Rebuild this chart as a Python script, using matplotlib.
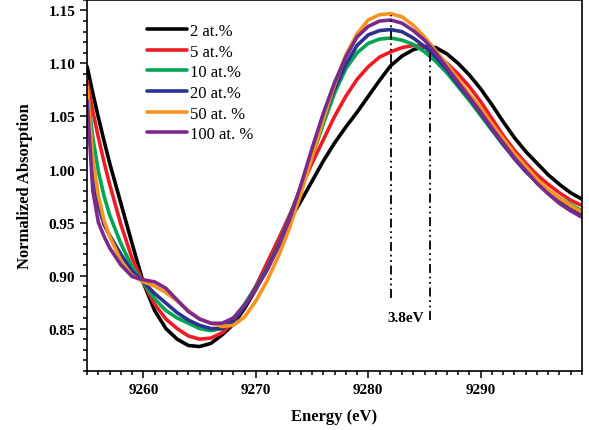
import numpy as np
import matplotlib
matplotlib.use("Agg")
import matplotlib.pyplot as plt
from matplotlib.ticker import MultipleLocator

plt.rcParams['font.family'] = ['Liberation Serif', 'DejaVu Serif']

# energy grid (eV) shared by all spectra
energy = [9255, 9255.5, 9256, 9256.5, 9257, 9258, 9259, 9260, 9261, 9262, 9263, 9264,
          9265, 9266, 9267, 9268, 9269, 9270, 9271, 9272, 9273, 9274, 9275, 9276,
          9277, 9278, 9279, 9280, 9281, 9282, 9283, 9284, 9285, 9286, 9287, 9288,
          9289, 9290, 9291, 9292, 9293, 9294, 9295, 9296, 9297, 9298, 9299]

# normalized absorption
at2 = [1.097, 1.072, 1.049, 1.027, 1.006, 0.968, 0.930, 0.893, 0.867, 0.850, 0.840, 0.834,
       0.833, 0.836, 0.844, 0.854, 0.869, 0.887, 0.910, 0.932, 0.952, 0.970, 0.989, 1.008,
       1.025, 1.040, 1.054, 1.069, 1.084, 1.098, 1.107, 1.113, 1.116, 1.115, 1.109, 1.100,
       1.089, 1.076, 1.061, 1.045, 1.030, 1.017, 1.006, 0.995, 0.986, 0.978, 0.972]
at5 = [1.083, 1.055, 1.030, 1.007, 0.986, 0.948, 0.916, 0.893, 0.873, 0.859, 0.850, 0.843,
       0.840, 0.841, 0.846, 0.856, 0.872, 0.890, 0.912, 0.934, 0.957, 0.982, 1.006, 1.028,
       1.050, 1.069, 1.085, 1.097, 1.106, 1.111, 1.115, 1.117, 1.116, 1.109, 1.100, 1.090,
       1.078, 1.064, 1.048, 1.032, 1.018, 1.006, 0.995, 0.986, 0.978, 0.971, 0.966]
at10 = [1.075, 1.030, 0.998, 0.975, 0.957, 0.930, 0.908, 0.893, 0.878, 0.867, 0.860, 0.855,
        0.850, 0.848, 0.850, 0.859, 0.873, 0.889, 0.907, 0.929, 0.955, 0.983, 1.012, 1.043,
        1.072, 1.095, 1.110, 1.119, 1.123, 1.124, 1.122, 1.118, 1.111, 1.102, 1.091, 1.078,
        1.065, 1.051, 1.037, 1.023, 1.011, 0.999, 0.988, 0.980, 0.973, 0.967, 0.961]
at20 = [1.070, 1.000, 0.966, 0.948, 0.938, 0.920, 0.904, 0.894, 0.883, 0.874, 0.865, 0.858,
        0.853, 0.850, 0.850, 0.857, 0.871, 0.888, 0.906, 0.928, 0.954, 0.984, 1.016, 1.048,
        1.076, 1.099, 1.117, 1.127, 1.131, 1.132, 1.130, 1.124, 1.116, 1.106, 1.094, 1.080,
        1.067, 1.053, 1.038, 1.024, 1.010, 0.998, 0.988, 0.979, 0.970, 0.963, 0.958]
at50 = [1.078, 1.010, 0.975, 0.952, 0.937, 0.914, 0.900, 0.894, 0.890, 0.884, 0.876, 0.867,
        0.859, 0.855, 0.852, 0.853, 0.861, 0.876, 0.895, 0.918, 0.945, 0.977, 1.012, 1.047,
        1.080, 1.108, 1.128, 1.141, 1.146, 1.147, 1.144, 1.136, 1.125, 1.112, 1.099, 1.085,
        1.071, 1.058, 1.043, 1.029, 1.015, 1.003, 0.991, 0.981, 0.973, 0.966, 0.960]
at100 = [1.065, 0.980, 0.950, 0.937, 0.926, 0.910, 0.899, 0.896, 0.894, 0.888, 0.877, 0.866,
         0.859, 0.855, 0.855, 0.860, 0.872, 0.887, 0.905, 0.927, 0.953, 0.985, 1.020, 1.053,
         1.082, 1.106, 1.125, 1.135, 1.140, 1.141, 1.138, 1.131, 1.122, 1.110, 1.096, 1.082,
         1.068, 1.054, 1.039, 1.025, 1.011, 0.999, 0.987, 0.977, 0.968, 0.961, 0.955]

labels = ['2 at.%', '5 at.%', '10 at.%', '20 at.%', '50 at. %', '100 at. %']
colors = ['#000000', '#ed1c24', '#00a651', '#2e3192', '#f7941d', '#7a2a8c']

# peak markers and the shift annotation
peak_x = [9282.0, 9285.5]
peak_top = [1.146, 1.114]
peak_bottom = [0.879, 0.858]
shift_text = '3.8eV'

fig = plt.figure(figsize=(5.89, 4.31), dpi=100)
ax = fig.add_axes([0.148, 0.137, 0.840, 0.861])

for y, lab, c in zip([at2, at5, at10, at20, at50, at100], labels, colors):
    ax.plot(energy, y, color=c, lw=2.6, label=lab, solid_capstyle='round',
            solid_joinstyle='round')

for x, t, b in zip(peak_x, peak_top, peak_bottom):
    ax.plot([x, x], [b, t], color='black', lw=1.3, linestyle=(0, (5, 2, 1, 2, 1, 2)))

ax.text(9283.3, 0.8605, shift_text, ha='center', va='center', fontsize=11, fontweight='bold')

ax.set_xlim(9255, 9299)
ax.set_ylim(0.81, 1.16)
ax.xaxis.set_major_locator(MultipleLocator(10))
ax.xaxis.set_minor_locator(MultipleLocator(1))
ax.yaxis.set_major_locator(MultipleLocator(0.05))
ax.yaxis.set_minor_locator(MultipleLocator(0.01))
ax.yaxis.set_major_formatter(matplotlib.ticker.FormatStrFormatter('%.2f'))
ax.tick_params(which='both', direction='out', top=False, right=False, width=1.1)
ax.tick_params(which='major', length=5, labelsize=11)
ax.tick_params(which='minor', length=3)
for lbl in ax.get_xticklabels() + ax.get_yticklabels():
    lbl.set_fontweight('bold')
for s in ax.spines.values():
    s.set_linewidth(1.2)

ax.set_xlabel('Energy (eV)', fontsize=12, fontweight='bold', labelpad=9)
ax.set_ylabel('Normalized Absorption', fontsize=12, fontweight='bold', labelpad=11)

ax.legend(loc='upper left', bbox_to_anchor=(0.108, 0.956), frameon=False, fontsize=12,
          handlelength=2.4, handletextpad=0.15, labelspacing=0.28, borderaxespad=0)

plt.savefig('out.png', dpi=100)
